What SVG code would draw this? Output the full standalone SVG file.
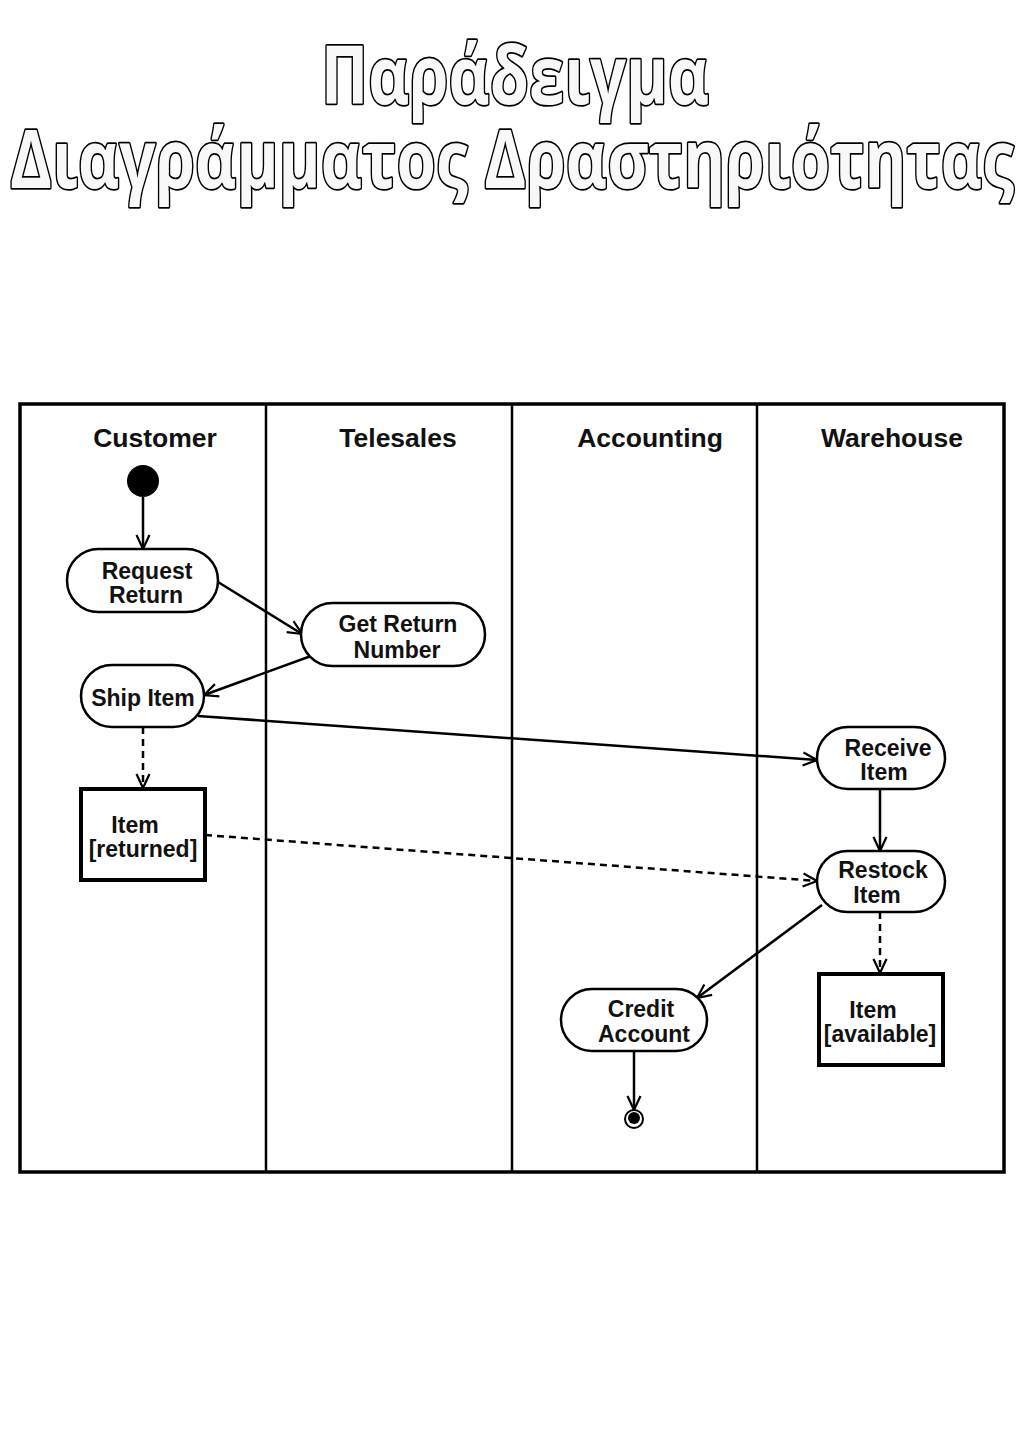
<svg xmlns="http://www.w3.org/2000/svg" width="1024" height="1448" viewBox="0 0 1024 1448">
<defs>
<marker id="open" viewBox="0 0 16 16" refX="15" refY="8" markerWidth="16" markerHeight="16" markerUnits="userSpaceOnUse" orient="auto">
<path d="M1,1.5 L15,8 L1,14.5" fill="none" stroke="#000" stroke-width="2.2"/>
</marker>
</defs>
<style>
.title{font-family:"Open Sans","Noto Sans",sans-serif;font-weight:bold;font-size:80px;fill:#f8f8f8;stroke:#000;stroke-width:3.5;paint-order:stroke;stroke-linejoin:round;text-anchor:middle}
.lane{font-family:"Liberation Sans",Arial,sans-serif;font-weight:bold;font-size:26.5px;fill:#111;text-anchor:middle}
.lbl{font-family:"Liberation Sans",Arial,sans-serif;font-weight:bold;font-size:23px;fill:#111;text-anchor:middle}
.act{fill:#fff;stroke:#000;stroke-width:2.5}
.obj{fill:#fff;stroke:#000;stroke-width:4}
.edge{fill:none;stroke:#000;stroke-width:2.5;marker-end:url(#open)}
.dash{stroke-dasharray:7,5}
</style>
<rect width="1024" height="1448" fill="#fff"/>
<g id="title">
<text class="title" x="515" y="104" textLength="388" lengthAdjust="spacingAndGlyphs">Παράδειγμα</text>
<text class="title" x="512" y="188" textLength="1004" lengthAdjust="spacingAndGlyphs">Διαγράμματος Δραστηριότητας</text>
</g>
<g id="swimlanes">
<rect x="20" y="404" width="984" height="768" fill="none" stroke="#000" stroke-width="3.5"/>
<line x1="266" y1="404" x2="266" y2="1172" stroke="#000" stroke-width="2.5"/>
<line x1="512" y1="404" x2="512" y2="1172" stroke="#000" stroke-width="2.5"/>
<line x1="757" y1="404" x2="757" y2="1172" stroke="#000" stroke-width="2.5"/>
<text class="lane" x="155" y="447">Customer</text>
<text class="lane" x="398" y="447">Telesales</text>
<text class="lane" x="650" y="447">Accounting</text>
<text class="lane" x="892" y="447">Warehouse</text>
</g>
<g id="connectors">
<line class="edge" x1="143" y1="497" x2="143" y2="549"/>
<line class="edge" x1="218" y1="582" x2="302" y2="634"/>
<line class="edge" x1="311" y1="656" x2="204" y2="695"/>
<line class="edge" x1="198" y1="716" x2="817" y2="760"/>
<line class="edge dash" x1="143" y1="727" x2="143" y2="788"/>
<line class="edge dash" x1="205" y1="835" x2="817" y2="881"/>
<line class="edge" x1="880" y1="789" x2="880" y2="851"/>
<line class="edge" x1="822" y1="905" x2="697" y2="998"/>
<line class="edge dash" x1="880" y1="912" x2="880" y2="973"/>
<line class="edge" x1="634" y1="1051" x2="634" y2="1110"/>
</g>
<g id="start"><circle cx="143" cy="481" r="16" fill="#000"/></g>
<g id="request-return">
<rect class="act" x="67" y="549" width="151" height="63" rx="31.5"/>
<text class="lbl" x="147" y="579">Request</text>
<text class="lbl" x="146" y="603">Return</text>
</g>
<g id="get-return-number">
<rect class="act" x="301" y="603" width="184" height="63" rx="31.5"/>
<text class="lbl" x="398" y="632">Get Return</text>
<text class="lbl" x="397" y="658">Number</text>
</g>
<g id="ship-item">
<rect class="act" x="81" y="665" width="123" height="62" rx="31"/>
<text class="lbl" x="143" y="706">Ship Item</text>
</g>
<g id="item-returned">
<rect class="obj" x="81" y="789" width="124" height="91"/>
<text class="lbl" x="135" y="833">Item</text>
<text class="lbl" x="143" y="857">[returned]</text>
</g>
<g id="receive-item">
<rect class="act" x="817" y="727" width="128" height="62" rx="31"/>
<text class="lbl" x="888" y="756">Receive</text>
<text class="lbl" x="884" y="780">Item</text>
</g>
<g id="restock-item">
<rect class="act" x="817" y="851" width="128" height="61" rx="30.5"/>
<text class="lbl" x="883" y="878">Restock</text>
<text class="lbl" x="877" y="903">Item</text>
</g>
<g id="credit-account">
<rect class="act" x="561" y="989" width="146" height="62" rx="31"/>
<text class="lbl" x="641" y="1017">Credit</text>
<text class="lbl" x="644" y="1042">Account</text>
</g>
<g id="item-available">
<rect class="obj" x="819" y="974" width="124" height="91"/>
<text class="lbl" x="873" y="1018">Item</text>
<text class="lbl" x="880" y="1042">[available]</text>
</g>
<g id="end">
<circle cx="634" cy="1119" r="9" fill="#fff" stroke="#000" stroke-width="2"/>
<circle cx="634" cy="1118" r="6" fill="#000"/>
</g>
</svg>
